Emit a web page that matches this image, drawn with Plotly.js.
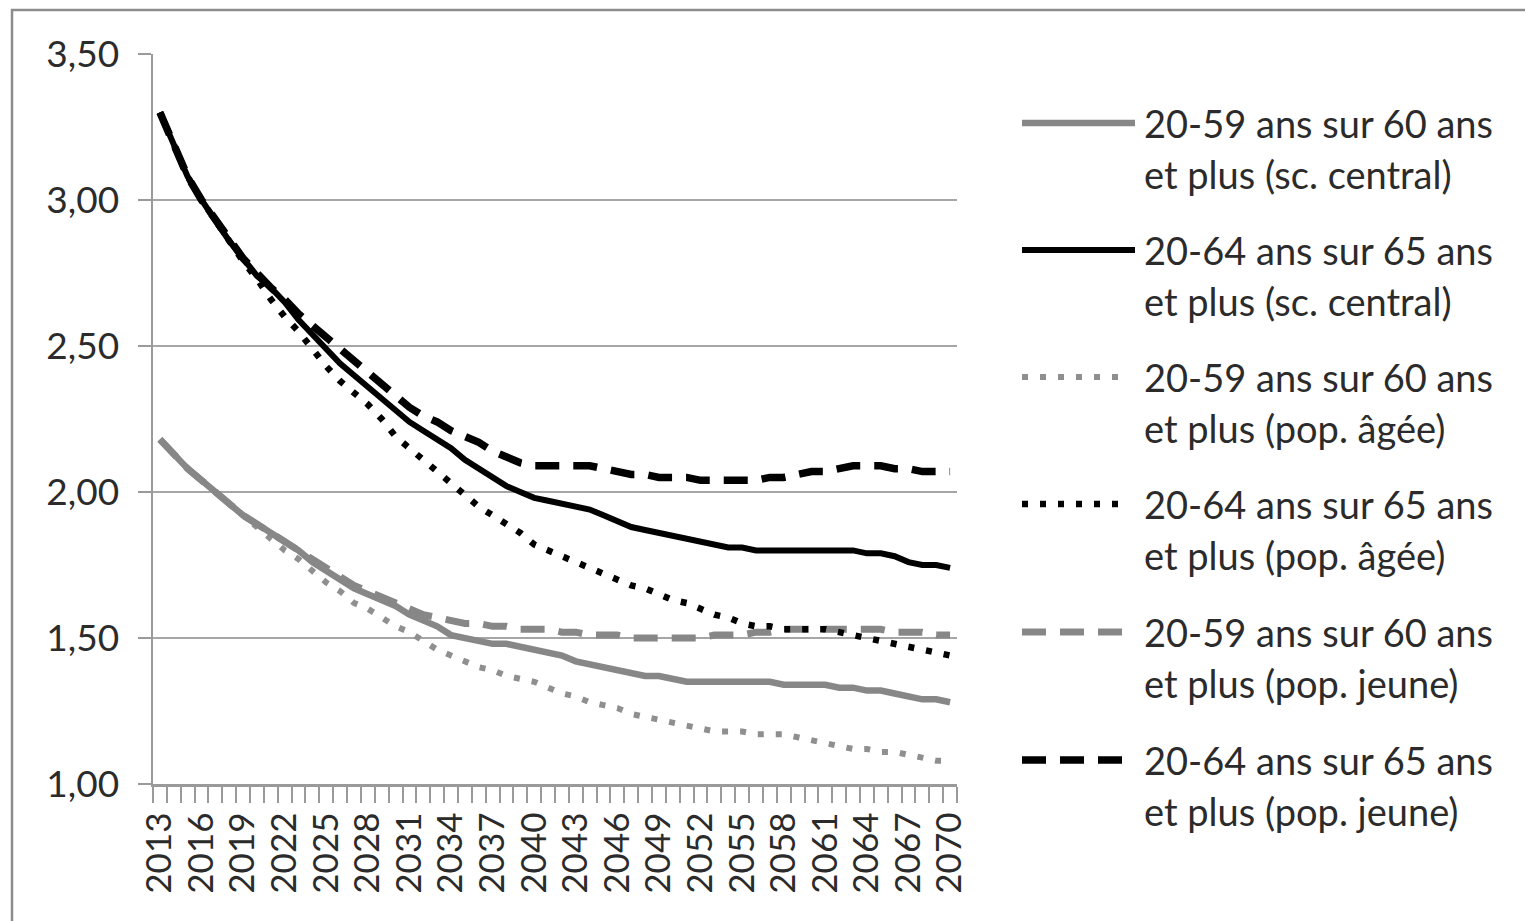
<!DOCTYPE html>
<html><head><meta charset="utf-8">
<script src="https://cdn.plot.ly/plotly-3.0.1.min.js"></script>
<style>html,body{margin:0;padding:0;background:#fff}#chart{width:1525px;height:921px}</style>
</head><body><div id="chart"></div><script>
const years = [2013,2014,2015,2016,2017,2018,2019,2020,2021,2022,2023,2024,2025,2026,2027,2028,2029,2030,2031,2032,2033,2034,2035,2036,2037,2038,2039,2040,2041,2042,2043,2044,2045,2046,2047,2048,2049,2050,2051,2052,2053,2054,2055,2056,2057,2058,2059,2060,2061,2062,2063,2064,2065,2066,2067,2068,2069,2070];
const tickYears = [2013,2016,2019,2022,2025,2028,2031,2034,2037,2040,2043,2046,2049,2052,2055,2058,2061,2064,2067,2070];

const r2059central = [2.18,2.13,2.08,2.04,2.00,1.96,1.92,1.89,1.86,1.83,1.80,1.76,1.73,1.70,1.67,1.65,1.63,1.61,1.58,1.56,1.54,1.51,1.50,1.49,1.48,1.48,1.47,1.46,1.45,1.44,1.42,1.41,1.40,1.39,1.38,1.37,1.37,1.36,1.35,1.35,1.35,1.35,1.35,1.35,1.35,1.34,1.34,1.34,1.34,1.33,1.33,1.32,1.32,1.31,1.30,1.29,1.29,1.28];
const r2064central = [3.30,3.19,3.08,3.00,2.93,2.86,2.80,2.74,2.70,2.65,2.59,2.54,2.49,2.44,2.40,2.36,2.32,2.28,2.24,2.21,2.18,2.15,2.11,2.08,2.05,2.02,2.00,1.98,1.97,1.96,1.95,1.94,1.92,1.90,1.88,1.87,1.86,1.85,1.84,1.83,1.82,1.81,1.81,1.80,1.80,1.80,1.80,1.80,1.80,1.80,1.80,1.79,1.79,1.78,1.76,1.75,1.75,1.74];
const r2059agee = [2.18,2.13,2.08,2.04,2.00,1.96,1.92,1.88,1.84,1.80,1.77,1.73,1.69,1.66,1.62,1.60,1.57,1.54,1.52,1.49,1.46,1.44,1.42,1.40,1.39,1.37,1.36,1.35,1.33,1.31,1.30,1.28,1.27,1.26,1.24,1.23,1.22,1.21,1.20,1.19,1.18,1.18,1.18,1.17,1.17,1.17,1.16,1.15,1.14,1.13,1.12,1.12,1.11,1.11,1.10,1.09,1.08,1.08];
const r2064agee = [3.30,3.19,3.08,3.00,2.93,2.86,2.79,2.73,2.66,2.60,2.55,2.49,2.43,2.38,2.34,2.30,2.25,2.19,2.15,2.11,2.07,2.03,1.99,1.95,1.92,1.89,1.86,1.82,1.80,1.78,1.76,1.74,1.72,1.70,1.68,1.67,1.65,1.63,1.62,1.60,1.58,1.57,1.55,1.54,1.54,1.53,1.53,1.53,1.53,1.52,1.51,1.50,1.49,1.48,1.47,1.46,1.45,1.44];
const r2059jeune = [2.18,2.13,2.08,2.04,2.00,1.96,1.92,1.89,1.86,1.83,1.80,1.77,1.74,1.71,1.68,1.66,1.64,1.62,1.60,1.58,1.57,1.56,1.55,1.55,1.54,1.54,1.53,1.53,1.53,1.52,1.52,1.51,1.51,1.51,1.50,1.50,1.50,1.50,1.50,1.50,1.51,1.51,1.51,1.52,1.52,1.53,1.53,1.53,1.53,1.53,1.53,1.53,1.53,1.52,1.52,1.52,1.51,1.51];
const r2064jeune = [3.30,3.19,3.08,3.00,2.93,2.86,2.80,2.75,2.70,2.66,2.61,2.57,2.53,2.49,2.45,2.41,2.37,2.33,2.29,2.26,2.24,2.21,2.19,2.17,2.14,2.12,2.10,2.09,2.09,2.09,2.09,2.09,2.08,2.07,2.06,2.06,2.05,2.05,2.05,2.04,2.04,2.04,2.04,2.04,2.05,2.05,2.06,2.07,2.07,2.08,2.09,2.09,2.09,2.08,2.08,2.07,2.07,2.07];

const names = [
  ["20-59 ans sur 60 ans","et plus (sc. central)"],
  ["20-64 ans sur 65 ans","et plus (sc. central)"],
  ["20-59 ans sur 60 ans","et plus (pop. âgée)"],
  ["20-64 ans sur 65 ans","et plus (pop. âgée)"],
  ["20-59 ans sur 60 ans","et plus (pop. jeune)"],
  ["20-64 ans sur 65 ans","et plus (pop. jeune)"]
];
const seriesData = [r2059central, r2064central, r2059agee, r2064agee, r2059jeune, r2064jeune];

const GRAY = '#878787';
const styles = [
  {color: GRAY, width: 6.5, dash: 'solid'},
  {color: '#000000', width: 6, dash: 'solid'},
  {color: '#8f8f8f', width: 6, dash: '6px,12px'},
  {color: '#000000', width: 6.5, dash: '6px,12px'},
  {color: GRAY, width: 7, dash: '24px,14px'},
  {color: '#000000', width: 7.5, dash: '24px,14px'}
];

// draw order: back to front
const order = [4, 2, 0, 5, 3, 1];
const traces = order.map(i => ({
  type: 'scatter', mode: 'lines', x: years, y: seriesData[i],
  name: names[i].join(' '), line: Object.assign({}, styles[i]), showlegend: false,
  hoverinfo: 'x+y'
}));

// pixel -> paper helpers (plot area 153..957 x, 54..784 y)
const L = 153, R = 957, T = 54, B = 784;
const px = v => (v - L) / (R - L);
const py = v => (B - v) / (B - T);

const TXT = '#2b2b2b';
const shapes = [];
const annotations = [];
const legY = [123, 250, 377, 504, 632, 760];
const legX1 = [1135, 1135, 1127, 1127, 1127, 1127];
for (let k = 0; k < 6; k++) {
  const s = styles[k];
  shapes.push({type: 'line', xref: 'paper', yref: 'paper',
    x0: px(1022), x1: px(legX1[k]), y0: py(legY[k]), y1: py(legY[k]),
    line: {color: s.color, width: s.width, dash: s.dash}});
  annotations.push({xref: 'paper', yref: 'paper', x: px(1142), y: py(legY[k]),
    xanchor: 'left', yanchor: 'middle', showarrow: false, text: names[k][0],
    font: {family: 'Lato, sans-serif', size: 38, color: TXT}});
  annotations.push({xref: 'paper', yref: 'paper', x: px(1142), y: py(legY[k] + 51),
    xanchor: 'left', yanchor: 'middle', showarrow: false, text: names[k][1],
    font: {family: 'Lato, sans-serif', size: 38, color: TXT}});
}
// outer chart border
shapes.push({type: 'rect', xref: 'paper', yref: 'paper', x0: px(12), x1: px(1560), y0: py(10), y1: py(960),
  line: {color: '#8c8c8c', width: 2.5}, fillcolor: 'rgba(0,0,0,0)', layer: 'below'});

const layout = {
  width: 1525, height: 921,
  margin: {l: L, r: 1525 - R, t: T, b: 921 - B, pad: 0},
  paper_bgcolor: '#ffffff', plot_bgcolor: '#ffffff',
  separators: ',.',
  showlegend: false,
  font: {family: 'Lato, sans-serif', color: TXT},
  xaxis: {
    type: 'linear', range: [2012.5, 2070.5], fixedrange: true,
    tickmode: 'array', tickvals: tickYears, ticktext: tickYears.map(String),
    tickangle: -90, ticks: '', ticklabelstandoff: 12,
    tickfont: {family: 'Lato, sans-serif', size: 35, color: TXT},
    showgrid: false, zeroline: false,
    showline: true, linecolor: '#9a9a9a', linewidth: 2.5,
    minor: {ticks: 'outside', tickmode: 'linear', tick0: 2012.5, dtick: 1, ticklen: 16, tickwidth: 2, tickcolor: '#9a9a9a', showgrid: false}
  },
  yaxis: {
    range: [1, 3.5], fixedrange: true, tickmode: 'linear', tick0: 1, dtick: 0.5, tickformat: '.2f',
    ticks: 'outside', ticklen: 13, tickwidth: 2, tickcolor: '#9a9a9a', ticklabelstandoff: 11,
    tickfont: {family: 'Lato, sans-serif', size: 37, color: TXT},
    showgrid: true, gridcolor: '#a6a6a6', gridwidth: 2.5, zeroline: false,
    showline: true, linecolor: '#9a9a9a', linewidth: 2.5
  },
  shapes: shapes,
  annotations: annotations
};

Plotly.newPlot('chart', traces, layout, {displayModeBar: false, staticPlot: true});
</script></body></html>
